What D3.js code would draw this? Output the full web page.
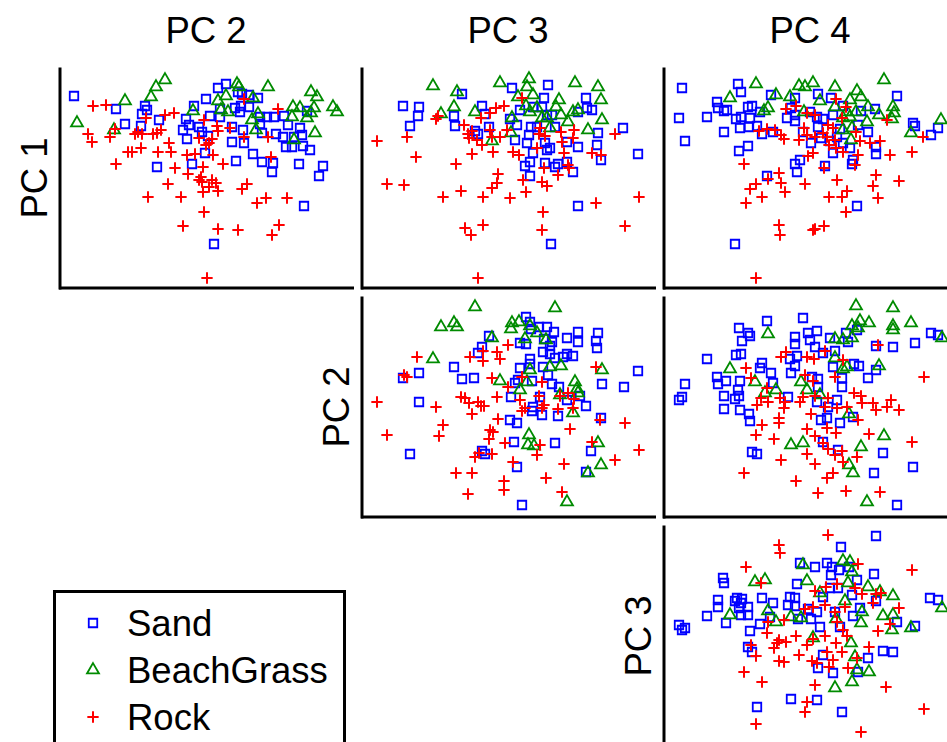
<!DOCTYPE html>
<html>
<head>
<meta charset="utf-8">
<script src="https://cdn.jsdelivr.net/npm/d3@7"></script>
<style>
  html, body { margin: 0; padding: 0; background: #fff; overflow: hidden; }
  svg { display: block; font-family: "Liberation Sans", Arial, Helvetica, sans-serif; }
</style>
</head>
<body>
<svg id="chart" width="947" height="742"></svg>
<script>
// Scatterplot matrix of principal component scores by substrate.
// Each array holds [x, y] score pairs: x = column component, y = row component.

const rowLabels = ["PC 1", "PC 2", "PC 3"];
const colLabels = ["PC 2", "PC 3", "PC 4"];
const groups = ["Sand", "BeachGrass", "Rock"];

// ---- PC 1 (y) vs PC 2 (x)
const pc1_pc2_sand = [[-13.2,8.2],[-9.0,6.9],[-8.1,5.4],[-6.1,7.2],[-5.9,6.8],[-6.4,6.4],[-6.5,5.2],[-4.7,5.8],[-1.2,7.2],[0.0,7.9],[-2.0,5.9],[-1.7,5.3],[-2.3,4.8],[-1.9,3.9],[-0.7,5.1],[-0.4,4.6],[0.4,6.2],[0.2,4.2],[-0.1,2.5],[-4.9,1.1],[-1.4,1.4],[1.2,9.0],[2.0,9.4],[3.2,8.6],[3.6,8.4],[4.3,8.3],[5.2,8.0],[1.4,6.1],[1.4,6.9],[2.9,7.0],[3.5,7.2],[4.3,7.1],[3.4,6.6],[5.4,6.1],[6.1,6.1],[6.8,6.1],[7.8,6.2],[8.2,5.3],[5.4,5.4],[2.6,5.1],[3.7,4.8],[2.6,3.6],[3.8,3.5],[5.6,4.5],[7.0,4.4],[7.7,4.1],[8.8,4.1],[9.6,4.3],[10.1,6.7],[9.4,5.0],[8.0,3.1],[8.6,3.1],[9.7,3.2],[10.4,2.8],[4.7,2.4],[5.6,1.6],[6.7,1.5],[6.6,0.6],[3.0,1.7],[9.3,1.4],[11.7,1.2],[11.3,0.2],[9.8,-2.8],[0.8,-6.6]];
const pc1_pc2_grass = [[-12.9,5.5],[-9.2,4.8],[-8.1,7.7],[-5.5,8.1],[-5.0,9.1],[-4.1,9.8],[-1.3,6.7],[3.1,9.4],[3.3,9.1],[6.2,9.1],[2.0,8.2],[1.2,7.7],[4.7,8.0],[1.5,6.8],[2.2,6.6],[5.2,6.4],[4.6,5.8],[5.0,4.8],[8.7,7.1],[9.4,7.0],[8.6,6.1],[10.1,6.0],[10.5,8.6],[11.1,8.1],[10.8,7.0],[10.5,6.5],[12.7,7.1],[13.1,6.6],[10.9,4.5],[8.8,3.8]];
const pc1_pc2_rock = [[-11.3,7.2],[-10.0,7.3],[-9.1,4.9],[-9.6,4.1],[-11.8,4.4],[-11.4,3.6],[-6.0,6.0],[-4.1,6.3],[-3.2,6.5],[-7.1,4.4],[-6.4,4.4],[-6.8,4.6],[-5.3,4.4],[-4.5,4.8],[-4.9,4.5],[-3.7,3.5],[-6.5,3.0],[-7.8,2.6],[-7.4,2.6],[-4.8,2.6],[-3.5,2.6],[-9.0,1.4],[-1.9,2.3],[-1.1,2.4],[-0.2,5.8],[-0.7,4.0],[0.0,3.3],[-3.1,1.0],[-1.8,0.4],[-0.3,1.1],[-0.5,0.1],[-0.7,-0.2],[-0.4,-0.4],[-3.8,-0.6],[-0.3,-1.4],[-5.8,-1.9],[-2.5,-1.9],[-0.2,-3.4],[-2.3,-4.8],[0.1,-10.0],[3.8,7.9],[7.2,6.9],[1.1,5.2],[1.2,4.7],[2.4,5.0],[0.6,3.9],[0.3,3.5],[3.8,4.1],[6.2,4.1],[0.7,2.3],[1.7,1.4],[6.5,2.1],[0.6,-0.2],[1.0,-0.5],[0.3,-0.9],[1.2,-1.3],[4.1,-0.6],[3.6,-1.1],[5.1,-2.5],[6.0,-2.0],[8.1,-2.0],[1.2,-5.1],[3.2,-5.2],[7.3,-4.7],[6.6,-5.7]];

// ---- PC 1 (y) vs PC 3 (x)
const pc1_pc3_sand = [[-10.5,7.2],[-8.9,7.1],[-9.0,6.2],[-9.8,5.2],[-4.6,8.4],[-5.4,6.2],[-5.3,5.2],[-2.6,7.2],[-2.3,6.4],[-3.3,4.7],[-3.0,4.4],[-1.9,5.1],[0.4,9.0],[0.2,5.9],[4.0,9.3],[3.6,8.0],[7.8,8.0],[7.9,7.0],[8.4,6.8],[7.0,6.6],[11.5,5.0],[13.0,2.4],[9.0,4.5],[8.9,3.3],[9.3,1.8],[1.2,6.8],[2.5,7.1],[3.4,7.1],[3.9,6.3],[4.4,6.3],[0.9,5.3],[2.3,5.1],[2.9,5.1],[4.7,5.1],[0.7,3.8],[2.1,4.3],[1.9,3.5],[3.7,3.5],[4.2,3.0],[2.5,2.5],[3.9,2.8],[5.9,3.6],[7.0,3.1],[2.2,1.6],[1.7,1.2],[3.7,1.5],[5.0,1.4],[5.9,1.6],[4.7,1.1],[6.5,0.6],[2.2,0.2],[7.0,-2.8],[4.3,-6.6]];
const pc1_pc3_grass = [[-7.5,9.2],[-5.1,8.6],[-6.7,6.4],[-5.4,7.1],[-3.3,6.6],[-0.8,9.5],[-1.6,3.7],[0.3,4.5],[2.1,9.9],[1.9,9.1],[1.0,8.1],[2.5,8.3],[1.8,7.2],[2.9,7.0],[2.2,6.6],[0.4,6.0],[3.4,6.0],[3.9,6.0],[5.1,7.8],[4.8,7.1],[5.3,6.3],[4.2,5.0],[6.0,5.6],[6.7,9.5],[9.0,9.1],[9.3,7.8],[6.5,6.6],[7.0,6.8],[8.0,4.8],[9.4,5.8]];
const pc1_pc3_rock = [[-13.1,3.7],[-10.1,4.1],[-9.2,2.1],[-12.1,-0.6],[-10.4,-0.7],[-7.2,5.9],[-7.0,6.2],[-4.4,5.3],[-4.0,4.4],[-3.9,4.0],[-3.6,4.7],[-3.1,3.8],[-2.6,3.3],[-2.7,6.0],[-1.8,6.5],[-1.2,7.0],[-0.4,7.2],[-1.8,4.8],[-1.6,4.1],[-0.8,4.1],[-0.1,4.8],[-1.5,2.6],[-3.6,2.4],[-5.2,1.4],[-1.0,0.4],[-1.1,-0.5],[-1.6,-1.0],[-4.7,-1.3],[-6.5,-1.9],[-2.5,-1.9],[0.2,-2.0],[-4.3,-5.0],[-3.7,-5.7],[-2.5,-4.7],[-3.0,-10.0],[1.4,8.0],[3.2,5.0],[3.1,4.4],[3.7,4.2],[5.3,4.6],[6.6,4.8],[6.5,4.0],[5.4,3.6],[2.9,3.0],[0.5,2.6],[1.1,2.3],[5.6,2.5],[8.4,2.5],[9.3,2.3],[10.7,4.4],[6.0,1.3],[6.1,1.0],[3.6,1.0],[5.0,0.3],[1.5,-0.2],[3.4,-0.4],[3.9,-0.8],[1.8,-1.4],[3.5,-3.4],[3.4,-5.2],[8.8,-2.5],[13.1,-1.9],[11.7,-4.8]];

// ---- PC 1 (y) vs PC 4 (x)
const pc1_pc4_sand = [[-12.8,9.0],[-13.1,6.0],[-12.5,3.7],[-10.3,6.1],[-9.3,7.6],[-9.2,7.0],[-8.6,6.7],[-8.3,6.8],[-8.6,4.6],[-7.2,9.4],[-6.9,8.6],[-7.4,5.9],[-6.9,6.1],[-7.0,5.0],[-6.2,7.1],[-5.8,7.2],[-6.0,6.0],[-6.1,5.1],[-5.3,5.2],[-4.8,4.4],[-5.0,6.6],[-3.9,8.3],[-3.7,4.6],[-2.3,6.0],[-1.5,5.7],[-1.5,6.3],[-1.9,7.0],[-1.5,8.0],[-6.2,3.2],[-7.1,2.7],[-4.3,0.2],[-1.5,1.4],[-1.3,0.6],[-1.0,1.8],[-7.5,-6.6],[0.8,8.4],[2.1,8.0],[8.7,8.2],[0.0,6.6],[0.7,6.1],[1.3,5.9],[2.3,6.3],[3.3,7.2],[5.1,6.7],[6.5,6.9],[0.8,5.1],[-0.7,4.6],[1.1,4.0],[2.0,3.7],[0.1,3.5],[3.0,4.9],[2.7,4.1],[3.3,3.5],[4.0,3.0],[2.3,2.5],[4.8,5.3],[5.8,4.6],[6.6,3.1],[6.6,2.4],[10.3,5.5],[10.5,5.2],[12.1,4.3],[12.8,5.0],[4.3,1.8],[4.2,1.4],[1.5,1.2],[4.7,-2.8]];
const pc1_pc4_grass = [[-8.0,8.0],[-5.4,9.4],[-3.4,8.3],[-4.2,7.0],[-4.6,6.7],[-2.0,8.1],[-1.1,9.2],[-0.5,9.1],[-0.6,6.6],[0.3,9.5],[2.5,9.1],[1.0,7.7],[2.5,7.1],[4.0,7.8],[4.7,8.7],[5.1,8.1],[3.7,6.6],[4.6,6.6],[4.0,6.1],[3.3,6.0],[5.8,7.1],[5.7,5.6],[6.9,6.3],[7.4,9.8],[8.3,7.1],[8.4,6.5],[8.2,5.9],[4.2,5.0],[3.3,4.8],[4.1,3.8],[10.1,4.5],[13.1,5.8]];
const pc1_pc4_rock = [[-2.4,6.9],[-1.4,7.2],[-5.1,4.7],[-4.3,4.9],[-3.5,4.8],[-2.9,4.3],[-2.6,3.9],[-1.1,3.8],[-6.6,1.4],[-3.1,0.5],[-4.2,-0.1],[-5.4,-0.6],[-6.0,-1.1],[-2.9,-0.5],[-2.5,-1.4],[-4.8,-1.9],[-6.4,-2.5],[-3.1,-4.7],[-3.0,-5.7],[-5.4,-10.0],[2.6,7.9],[-0.3,6.5],[0.5,6.3],[3.6,7.1],[3.2,6.0],[1.8,5.3],[-0.6,5.0],[-0.3,4.3],[0.5,4.1],[1.3,4.5],[1.7,4.1],[2.3,5.0],[2.5,3.8],[1.9,3.3],[2.6,3.0],[3.3,2.6],[4.6,4.6],[5.0,3.7],[6.0,3.5],[7.0,3.7],[7.7,5.8],[4.8,2.3],[4.5,1.3],[8.0,2.3],[10.2,2.6],[11.3,4.1],[0.3,2.5],[-0.2,2.2],[1.4,1.0],[-0.5,-0.6],[2.7,-0.2],[3.7,-1.3],[3.2,-1.9],[1.9,-1.9],[3.6,-3.4],[6.6,0.3],[6.3,-0.8],[6.8,-2.0],[8.9,-0.3],[1.4,-4.8],[0.5,-5.1],[0.3,-5.2]];

// ---- PC 2 (y) vs PC 3 (x)
const pc2_pc3_sand = [[-1.9,7.1],[-2.6,6.0],[-3.0,5.4],[-5.4,4.0],[-8.9,3.4],[-10.5,2.9],[-4.6,2.8],[-3.4,2.9],[-8.9,0.5],[-9.8,-4.7],[-2.6,-4.4],[-2.3,-4.7],[0.3,1.0],[0.2,-1.3],[1.8,9.0],[2.2,8.5],[2.3,7.8],[3.1,8.0],[3.9,8.0],[4.6,7.5],[4.4,6.5],[3.6,6.8],[1.2,6.4],[1.8,6.3],[3.5,5.5],[4.2,6.1],[4.2,5.3],[4.7,4.9],[5.5,5.0],[5.9,5.3],[6.5,5.1],[5.9,6.9],[7.0,7.5],[7.0,6.5],[9.0,7.4],[8.8,6.6],[8.9,5.9],[13.0,3.6],[9.4,2.3],[11.6,2.0],[2.2,4.8],[2.2,4.3],[1.2,3.9],[1.0,2.7],[2.4,2.6],[3.5,4.0],[4.0,3.2],[4.4,2.3],[5.1,2.0],[0.7,2.4],[3.2,1.0],[5.9,0.7],[7.2,1.1],[7.8,0.1],[2.5,0.0],[2.4,-0.4],[3.4,-0.8],[5.0,-0.9],[0.9,-1.6],[0.6,-3.5],[4.7,-3.6],[9.3,-1.1],[8.3,-4.4],[0.9,-6.0],[7.8,-6.5],[1.4,-9.8]];
const pc2_pc3_grass = [[-3.3,10.0],[-6.7,8.0],[-5.4,8.4],[-5.1,8.0],[-7.5,4.8],[-1.6,6.9],[-0.8,2.6],[4.7,9.9],[0.4,8.4],[1.1,8.5],[0.3,7.8],[2.2,8.1],[2.9,7.4],[1.7,6.8],[3.8,6.7],[2.2,3.7],[4.2,4.0],[5.3,4.1],[1.9,2.5],[1.2,1.7],[6.7,2.5],[6.9,1.8],[7.0,1.4],[5.2,1.2],[6.5,-0.6],[9.4,3.7],[2.1,-2.8],[2.0,-3.8],[2.6,-3.9],[9.0,-3.6],[9.3,-5.8],[8.0,-6.6],[5.9,-9.5]];
const pc2_pc3_rock = [[-9.1,5.0],[-10.4,3.2],[-10.1,3.0],[-13.1,0.5],[-7.2,0.0],[-12.1,-2.8],[-6.5,-1.8],[-6.9,-2.9],[-3.8,5.0],[-2.5,5.6],[-2.5,4.6],[-1.1,5.5],[-0.8,4.8],[-1.6,2.9],[-4.7,1.0],[-4.3,0.9],[-3.9,0.4],[-3.0,0.5],[-2.7,0.1],[-2.4,0.1],[-3.6,-0.7],[-1.1,1.0],[-1.0,-1.2],[-1.8,-2.3],[-1.5,-2.5],[-1.9,-3.2],[-0.3,-3.6],[-2.9,-4.6],[-3.3,-5.0],[-1.6,-4.7],[-5.2,-6.6],[-3.6,-6.6],[-4.0,-8.7],[-0.4,-7.4],[-0.4,-8.3],[0.0,6.2],[1.4,3.0],[0.0,2.0],[3.4,2.5],[1.2,0.7],[1.7,-0.1],[1.4,-0.4],[3.1,1.1],[3.4,-0.1],[3.6,0.2],[5.2,1.1],[6.0,1.4],[6.6,0.8],[5.0,-0.2],[6.5,-0.1],[8.8,4.0],[9.2,-1.3],[11.7,-1.6],[6.2,-2.2],[3.2,-3.8],[2.9,-4.8],[8.4,-3.5],[10.7,-5.3],[13.1,-4.3],[0.5,-5.5],[5.6,-5.7],[3.8,-7.1],[5.4,-8.5]];

// ---- PC 2 (y) vs PC 4 (x)
const pc2_pc4_sand = [[-4.3,8.6],[-7.1,7.9],[-6.2,7.4],[-6.0,7.1],[-6.8,6.6],[-10.3,4.8],[-7.4,5.2],[-6.9,5.3],[-9.3,3.0],[-9.2,2.3],[-8.4,2.6],[-7.0,2.6],[-12.5,2.3],[-12.8,1.0],[-13.1,0.7],[-8.6,1.1],[-7.2,1.7],[-7.1,1.1],[-7.5,0.8],[-8.6,-0.2],[-7.0,-0.3],[-6.1,-0.7],[-6.0,-1.4],[-4.8,4.4],[-5.0,3.9],[-3.9,3.4],[-3.7,2.4],[-2.2,1.0],[-1.5,7.0],[-1.5,6.3],[-2.0,4.8],[-1.3,5.1],[-1.5,4.1],[-1.9,3.4],[-0.7,8.9],[-5.8,-4.5],[-5.3,-4.7],[-0.2,7.4],[0.7,7.6],[0.0,6.7],[0.5,6.0],[1.3,5.4],[2.0,6.9],[3.6,7.4],[3.8,6.5],[4.7,7.7],[2.5,5.6],[2.3,4.0],[4.4,4.3],[4.9,4.1],[6.6,6.1],[8.3,6.0],[10.5,6.4],[12.1,7.4],[12.8,7.2],[6.6,3.7],[5.8,2.9],[3.2,2.9],[3.2,2.0],[0.8,2.8],[0.2,3.0],[0.8,2.0],[0.7,0.5],[2.7,0.7],[1.8,0.0],[1.7,-1.1],[1.1,-1.3],[3.0,-1.6],[4.3,-1.0],[1.3,-3.5],[2.8,-4.3],[7.3,-4.6],[10.3,-6.0],[6.4,-6.6],[8.7,-9.8]];
const pc2_pc4_grass = [[-4.2,7.3],[-8.0,3.8],[-5.5,2.5],[-4.5,1.4],[-3.4,1.7],[-0.9,2.5],[-1.9,-3.8],[-0.7,-3.6],[4.6,10.1],[8.3,9.9],[5.0,8.6],[5.9,8.4],[4.2,8.1],[4.8,7.9],[8.3,8.1],[8.3,7.7],[10.1,8.4],[13.2,6.9],[2.5,6.8],[3.3,6.7],[4.2,6.9],[2.5,4.9],[3.3,3.8],[3.7,4.0],[6.9,4.1],[-0.3,1.7],[1.0,1.2],[3.9,-0.7],[7.4,-2.9],[5.1,-4.0],[3.9,-5.8],[4.3,-6.6],[5.7,-9.5]];
const pc2_pc4_rock = [[-2.4,5.5],[-2.9,5.0],[-6.4,3.9],[-5.9,2.9],[-4.3,1.9],[-4.9,0.9],[-4.2,0.5],[-5.3,0.2],[-3.0,0.9],[-2.5,0.5],[-2.6,-0.1],[-1.0,0.5],[-3.1,-1.1],[-3.1,-1.6],[-4.8,-1.8],[-5.4,-2.8],[-3.6,-3.2],[-2.9,-5.3],[-6.6,-6.6],[-1.4,-7.4],[6.8,6.2],[1.5,5.6],[-0.3,5.0],[0.4,4.8],[3.3,4.7],[2.5,3.0],[-0.5,3.2],[0.3,2.6],[11.4,3.0],[-0.7,1.0],[0.5,1.1],[1.8,0.9],[1.5,0.0],[2.7,-0.1],[3.7,0.0],[4.4,1.4],[5.1,1.1],[5.2,0.4],[6.3,0.4],[6.6,-0.3],[7.7,0.0],[8.1,0.7],[8.9,-0.3],[4.8,-1.3],[0.1,-0.7],[-0.3,-2.2],[0.5,-2.9],[1.7,-2.1],[2.6,-2.6],[1.3,-3.6],[1.8,-4.2],[-0.3,-4.7],[2.5,-4.8],[3.2,-4.4],[3.3,-5.5],[4.7,-5.0],[5.9,-2.7],[10.2,-3.5],[0.5,-5.7],[2.3,-6.6],[1.7,-7.1],[0.8,-8.6],[3.6,-8.4],[7.0,-8.5]];

// ---- PC 3 (y) vs PC 4 (x)
const pc3_pc4_sand = [[-8.7,5.8],[-8.6,5.3],[-9.2,3.6],[-9.2,2.9],[-10.3,2.0],[-8.4,1.3],[-7.5,3.5],[-7.3,3.8],[-6.8,3.7],[-6.9,3.3],[-7.1,2.8],[-6.2,2.9],[-6.9,2.1],[-6.2,2.1],[-6.0,0.5],[-4.8,3.8],[-3.7,3.3],[-5.0,1.2],[-4.0,1.9],[-13.1,1.1],[-12.8,0.6],[-12.5,0.8],[-6.2,-1.1],[-5.8,-1.6],[-2.0,3.9],[-1.5,3.8],[-2.2,3.1],[-1.5,3.0],[-1.3,5.2],[-1.0,7.3],[-1.2,1.7],[-1.9,-6.3],[-5.3,-7.1],[6.6,10.0],[3.1,8.9],[0.5,6.9],[1.7,7.3],[2.2,6.9],[2.1,6.1],[2.9,6.6],[3.9,6.9],[6.4,6.2],[4.7,5.6],[2.0,4.8],[2.8,4.8],[1.3,3.9],[4.2,4.1],[6.6,3.5],[5.0,2.8],[4.3,2.0],[-0.2,2.7],[0.7,2.4],[0.1,1.7],[2.5,2.4],[1.0,0.9],[3.0,0.9],[8.7,1.4],[10.5,1.0],[12.0,3.8],[12.8,3.6],[7.3,-1.5],[8.3,-1.6],[5.8,-2.2],[1.3,-1.9],[0.8,-3.2],[2.3,-3.7],[4.8,-3.6],[0.7,-6.4],[3.2,-7.6]];
const pc3_pc4_grass = [[-5.5,5.4],[-4.5,5.6],[-8.0,2.1],[-4.2,2.5],[-3.4,1.4],[-1.9,1.9],[-0.9,1.8],[-0.7,7.1],[3.3,7.5],[4.0,7.4],[4.2,6.4],[3.8,5.3],[-0.3,5.5],[1.0,4.3],[5.8,4.9],[7.0,4.4],[8.3,4.0],[3.5,3.5],[5.2,2.4],[5.1,1.3],[2.6,1.7],[7.3,2.0],[8.3,2.1],[8.2,0.6],[10.1,0.8],[13.2,2.8],[0.3,-0.2],[4.1,-0.7],[4.5,-2.1],[4.7,-3.4],[5.9,-3.6],[4.2,-4.6],[2.5,-5.2]];
const pc3_pc4_rock = [[-3.1,9.1],[-3.0,8.3],[-6.4,6.9],[-4.9,5.3],[-4.2,1.4],[-2.6,1.6],[-4.3,0.3],[-3.1,-0.4],[-2.4,-0.6],[-3.3,-0.7],[-3.6,-1.2],[-1.4,0.0],[-1.1,-1.9],[-3.1,-2.5],[-2.6,-2.6],[-5.9,-0.9],[-5.4,-2.0],[-6.6,-3.6],[-4.8,-4.6],[-5.4,-8.8],[1.8,10.1],[4.8,7.2],[10.2,6.6],[0.5,4.5],[1.6,4.9],[2.7,5.2],[4.5,4.8],[5.2,4.2],[6.6,4.2],[7.1,4.3],[6.3,3.3],[8.9,2.8],[0.3,2.9],[1.5,3.1],[2.5,2.4],[-0.5,2.7],[3.5,2.9],[2.7,1.4],[3.3,0.6],[3.7,0.0],[1.5,0.0],[0.3,-0.3],[-0.3,-0.9],[2.6,-0.7],[3.2,-1.6],[1.7,-1.6],[8.0,1.2],[6.8,0.5],[5.9,-1.1],[4.7,-2.2],[2.3,-2.4],[0.2,-2.5],[0.7,-2.7],[1.9,-3.1],[3.8,-3.2],[0.5,-4.9],[7.6,-5.1],[-0.3,-6.6],[-0.5,-7.6],[11.4,-7.3],[5.1,-9.6]];

// Panels in the upper triangle: [row, column, sand, beach grass, rock]
const panelData = [
  [0, 0, pc1_pc2_sand, pc1_pc2_grass, pc1_pc2_rock],
  [0, 1, pc1_pc3_sand, pc1_pc3_grass, pc1_pc3_rock],
  [0, 2, pc1_pc4_sand, pc1_pc4_grass, pc1_pc4_rock],
  [1, 1, pc2_pc3_sand, pc2_pc3_grass, pc2_pc3_rock],
  [1, 2, pc2_pc4_sand, pc2_pc4_grass, pc2_pc4_rock],
  [2, 2, pc3_pc4_sand, pc3_pc4_grass, pc3_pc4_rock]
];

// ---------------------------------------------------------------- layout
const svg = d3.select("#chart");
const panelW = 292, panelH = 219;
const colLeft = [60, 362, 664];
const rowBottom = [287.5, 516.5, 745.5];
const xDomain = [-14.6, 14.6];
const yDomain = [-10.95, 10.95];

const xScales = colLeft.map(l => d3.scaleLinear().domain(xDomain).range([l, l + panelW]));
const yScales = rowBottom.map(b => d3.scaleLinear().domain(yDomain).range([b, b - panelH]));

// Marker styles, one per group
const plusSymbol = {
  draw(context, size) {
    const r = Math.sqrt(size) / 2;
    context.moveTo(-r, 0); context.lineTo(r, 0);
    context.moveTo(0, -r); context.lineTo(0, r);
  }
};
const markerStyle = [
  { type: d3.symbolSquare,   size: 72,  color: "#0000ff", width: 1.8 },
  { type: d3.symbolTriangle, size: 62,  color: "#008b00", width: 1.8 },
  { type: plusSymbol,        size: 128, color: "#ff0000", width: 2.0 }
];
const symbolPaths = markerStyle.map(m => d3.symbol().type(m.type).size(m.size)());

// Column titles
svg.selectAll("text.col-title")
  .data(colLabels)
  .join("text")
  .attr("class", "col-title")
  .attr("x", (d, i) => colLeft[i] + panelW / 2)
  .attr("y", 43)
  .attr("text-anchor", "middle")
  .attr("font-size", 36.5)
  .text(d => d);

// Row titles (rotated)
svg.selectAll("text.row-title")
  .data(rowLabels)
  .join("text")
  .attr("class", "row-title")
  .attr("transform", (d, i) => `translate(${colLeft[i] - 13},${rowBottom[i] - panelH / 2}) rotate(-90)`)
  .attr("text-anchor", "middle")
  .attr("font-size", 36.5)
  .text(d => d);

// Panels
panelData.forEach(([r, c, ...sets]) => {
  const x = xScales[c], y = yScales[r];
  const g = svg.append("g");

  // points
  sets.forEach((pts, k) => {
    const m = markerStyle[k];
    g.append("g")
      .selectAll("path")
      .data(pts)
      .join("path")
      .attr("d", symbolPaths[k])
      .attr("transform", d => `translate(${x(d[0])},${y(d[1])})`)
      .attr("fill", "none")
      .attr("stroke", m.color)
      .attr("stroke-width", m.width);
  });

  // L-shaped frame: left and bottom axes with no ticks
  const axL = g.append("g")
    .attr("transform", `translate(${x.range()[0] - 0.5},0)`)
    .call(d3.axisLeft(y).ticks(0).tickSizeOuter(0));
  const axB = g.append("g")
    .attr("transform", `translate(0,${y.range()[0]})`)
    .call(d3.axisBottom(x).ticks(0).tickSizeOuter(0));
  [axL, axB].forEach(a => a.select(".domain")
    .attr("stroke", "#000")
    .attr("stroke-width", 3)
    .attr("stroke-linecap", "square"));
});

// Legend
const legend = svg.append("g");
legend.append("rect")
  .attr("x", 54.5).attr("y", 591.5)
  .attr("width", 290).attr("height", 200)
  .attr("fill", "#fff")
  .attr("stroke", "#000")
  .attr("stroke-width", 3);
const legendRows = legend.selectAll("g.item")
  .data(groups)
  .join("g")
  .attr("class", "item")
  .attr("transform", (d, i) => `translate(0,${623 + i * 47})`);
legendRows.append("path")
  .attr("d", (d, i) => symbolPaths[i])
  .attr("transform", "translate(93,0)")
  .attr("fill", "none")
  .attr("stroke", (d, i) => markerStyle[i].color)
  .attr("stroke-width", (d, i) => markerStyle[i].width);
legendRows.append("text")
  .attr("x", 127)
  .attr("y", 13)
  .attr("font-size", 36.5)
  .text(d => d);
</script>
</body>
</html>
